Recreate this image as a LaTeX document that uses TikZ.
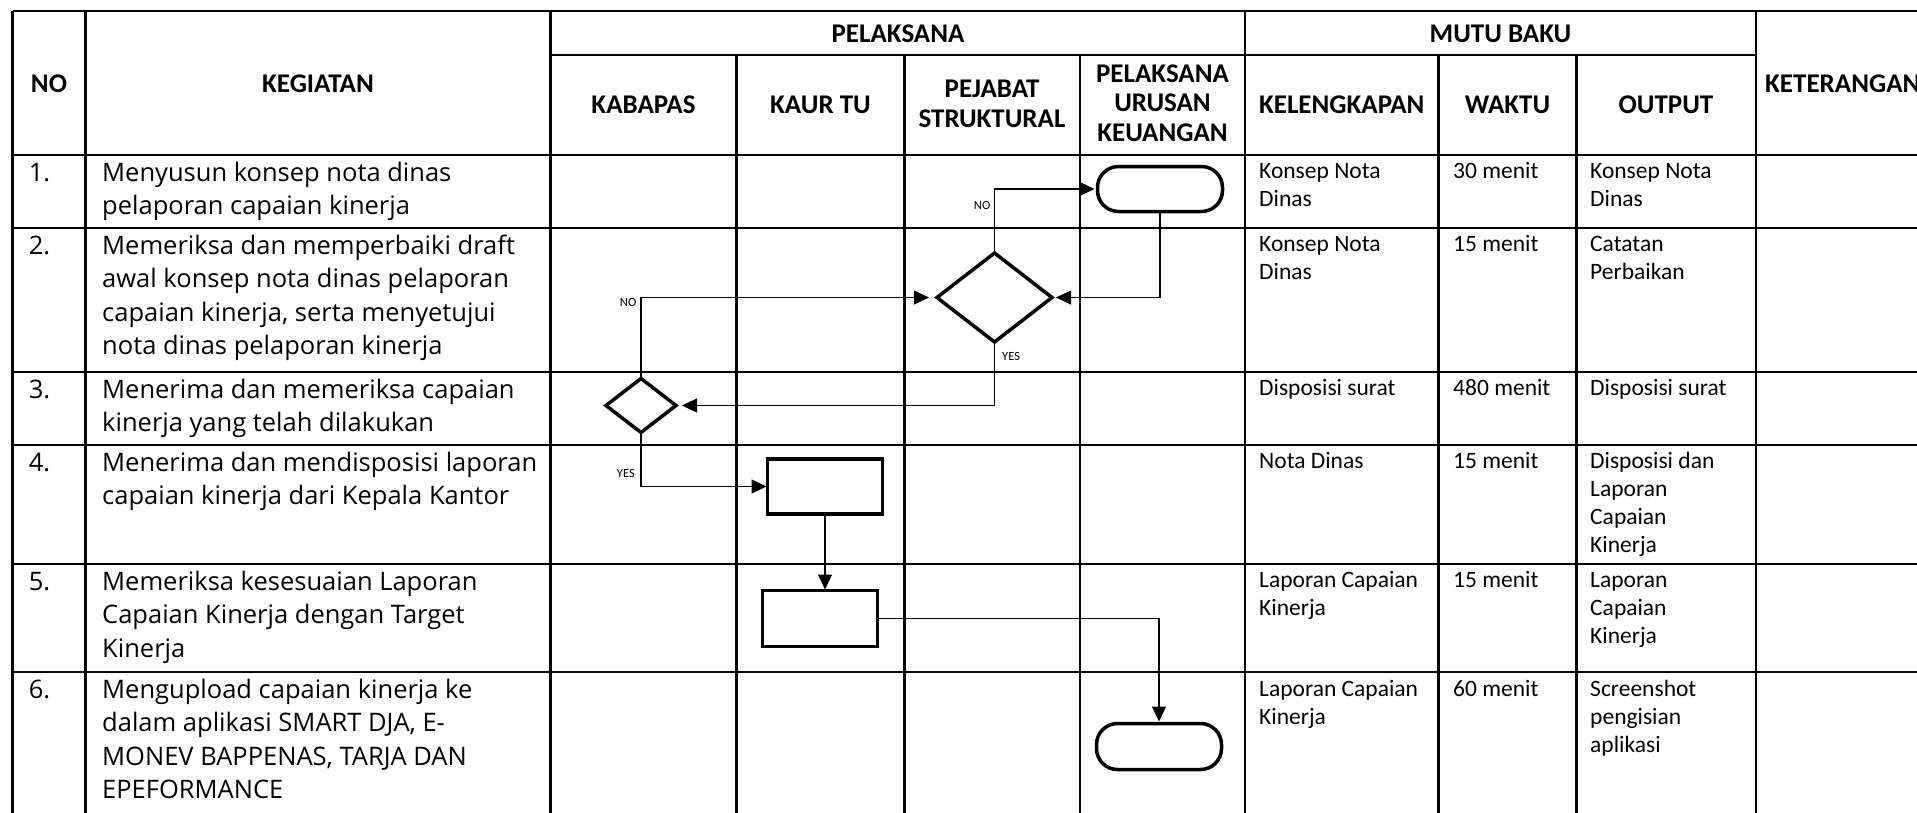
\documentclass[tikz,border=0pt]{standalone}
\usepackage{fontspec}
\setmainfont{Carlito}
\newfontfamily\kegfont{Open Sans}
\usetikzlibrary{arrows.meta,shapes.geometric}
\begin{document}
\begin{tikzpicture}[x=1pt,y=-1pt,
  grid/.style={line width=2.6pt},
  hdr/.style={font=\fontsize{27}{29.5}\selectfont\bfseries, align=center, inner sep=0},
  keg/.style={anchor=north west, inner sep=0, align=left, font=\kegfont\fontsize{25.5}{33.5}\selectfont},
  mb/.style={anchor=north west, inner sep=0, align=left, font=\fontsize{23.5}{28}\selectfont},
  term/.style={draw, line width=3.5pt, rounded corners=21pt, minimum width=125pt, minimum height=45pt, inner sep=0, outer sep=0},
  procbox/.style={draw, line width=3.5pt, minimum width=115pt, minimum height=55pt, inner sep=0, outer sep=0},
  dec/.style={draw, line width=3.5pt, diamond, inner sep=0, outer sep=0},
  flow/.style={line width=1.2pt, -{Triangle[length=15pt,width=14pt]}},
  lbl/.style={font=\fontsize{12.5}{14}\selectfont, inner sep=0}
]
\useasboundingbox (0,0) rectangle (1917,812);
\clip (0,0) rectangle (1917,812);
\fill[white] (0,0) rectangle (1917,812);

% horizontal grid lines
\draw[grid] (12.7,11) -- (1930,11);
\draw[grid] (550.5,55) -- (1756,55);
\foreach \yy in {155,228,372,445,564,672}
  \draw[grid] (12.7,\yy) -- (1930,\yy);
% vertical grid lines
\foreach \xx in {12.7,85.5,550.5,1245,1756}
  \draw[grid] (\xx,11) -- (\xx,830);
\foreach \xx in {736.5,904.5,1080,1438.5,1576.5}
  \draw[grid] (\xx,55) -- (\xx,830);

% headers
\node[hdr] (hNO) at (49,84) {NO};
\node[hdr] (hKEG) at (318,84) {KEGIATAN};
\node[hdr] (hPEL) at (898,33.5) {PELAKSANA};
\node[hdr] (hMB) at (1500.5,33.5) {MUTU BAKU};
\node[hdr, anchor=west] (hKET) at (1765,84) {KETERANGAN};
\node[hdr] (hKAB) at (643.5,104.5) {KABAPAS};
\node[hdr] (hKAUR) at (820.5,104.5) {KAUR TU};
\node[hdr] (hPJ) at (992,104) {PEJABAT\\STRUKTURAL};
\node[hdr] (hPU) at (1162.5,103) {PELAKSANA\\URUSAN\\KEUANGAN};
\node[hdr] (hKEL) at (1341.75,104.5) {KELENGKAPAN};
\node[hdr] (hWAK) at (1507.5,104.5) {WAKTU};
\node[hdr] (hOUT) at (1666,104.5) {OUTPUT};

% row 1
\node[keg] (n1) at (28.6,157.5) {\strut 1.};
\node[keg] (k1) at (102,157.5) {\strut Menyusun konsep nota dinas\\pelaporan capaian kinerja};
\node[mb] (l1) at (1259,158.5) {\strut Konsep Nota\\Dinas};
\node[mb] (w1) at (1453,158.5) {\strut 30 menit};
\node[mb] (o1) at (1590,158.5) {\strut Konsep Nota\\Dinas};
% row 2
\node[keg] (n2) at (28.6,230.5) {\strut 2.};
\node[keg] (k2) at (102,230.5) {\strut Memeriksa dan memperbaiki draft\\awal konsep nota dinas pelaporan\\capaian kinerja, serta menyetujui\\nota dinas pelaporan kinerja};
\node[mb] (l2) at (1259,231.5) {\strut Konsep Nota\\Dinas};
\node[mb] (w2) at (1453,231.5) {\strut 15 menit};
\node[mb] (o2) at (1590,231.5) {\strut Catatan\\Perbaikan};
% row 3
\node[keg] (n3) at (28.6,374.5) {\strut 3.};
\node[keg] (k3) at (102,374.5) {\strut Menerima dan memeriksa capaian\\kinerja yang telah dilakukan};
\node[mb] (l3) at (1259,375.5) {\strut Disposisi surat};
\node[mb] (w3) at (1453,375.5) {\strut 480 menit};
\node[mb] (o3) at (1590,375.5) {\strut Disposisi surat};
% row 4
\node[keg] (n4) at (28.6,447.5) {\strut 4.};
\node[keg] (k4) at (102,447.5) {\strut Menerima dan mendisposisi laporan\\capaian kinerja dari Kepala Kantor};
\node[mb] (l4) at (1259,448.5) {\strut Nota Dinas};
\node[mb] (w4) at (1453,448.5) {\strut 15 menit};
\node[mb] (o4) at (1590,448.5) {\strut Disposisi dan\\Laporan\\Capaian\\Kinerja};
% row 5
\node[keg] (n5) at (28.6,566.5) {\strut 5.};
\node[keg] (k5) at (102,566.5) {\strut Memeriksa kesesuaian Laporan\\Capaian Kinerja dengan Target\\Kinerja};
\node[mb] (l5) at (1259,567.5) {\strut Laporan Capaian\\Kinerja};
\node[mb] (w5) at (1453,567.5) {\strut 15 menit};
\node[mb] (o5) at (1590,567.5) {\strut Laporan\\Capaian\\Kinerja};
% row 6
\node[keg] (n6) at (28.6,674.5) {\strut 6.};
\node[keg] (k6) at (102,674.5) {\strut Mengupload capaian kinerja ke\\dalam aplikasi SMART DJA, E-\\MONEV BAPPENAS, TARJA DAN\\EPEFORMANCE};
\node[mb] (l6) at (1259,676.5) {\strut Laporan Capaian\\Kinerja};
\node[mb] (w6) at (1453,676.5) {\strut 60 menit};
\node[mb] (o6) at (1590,676.5) {\strut Screenshot\\pengisian\\aplikasi};

% flow shapes
\node[term] (T1) at (1160,189) {};
\node[dec, minimum width=115pt, minimum height=89pt] (D1) at (994.5,297.5) {};
\node[dec, minimum width=70pt, minimum height=54pt] (D2) at (641,405.5) {};
\node[procbox] (R1) at (825,486.5) {};
\node[procbox, minimum height=56pt] (R2) at (820,618.5) {};
\node[term, minimum height=46pt] (T2) at (1159,746.5) {};

% connectors
\draw[flow, shorten >=3pt] (D1.north) |- (T1.west);
\draw[flow, shorten >=4pt] (T1.south) |- (D1.east);
\draw[flow, shorten >=8pt] (D2.north) |- (D1.west);
\draw[flow, shorten >=6pt] (D1.south) |- (D2.east);
\draw[flow, shorten >=1pt] (D2.south) |- (R1.west);
\draw[flow, shorten >=1pt] (R1.south) -- (R1.south |- R2.north);
\draw[flow, shorten >=2pt] (R2.east) -| (T2.north);

% labels
\node[lbl, anchor=east] (lNO1) at (990.5,205) {NO};
\node[lbl, anchor=west] (lYES1) at (1002,356) {YES};
\node[lbl, anchor=east] (lNO2) at (636.5,302) {NO};
\node[lbl, anchor=east] (lYES2) at (635,473) {YES};
\end{tikzpicture}
\end{document}
